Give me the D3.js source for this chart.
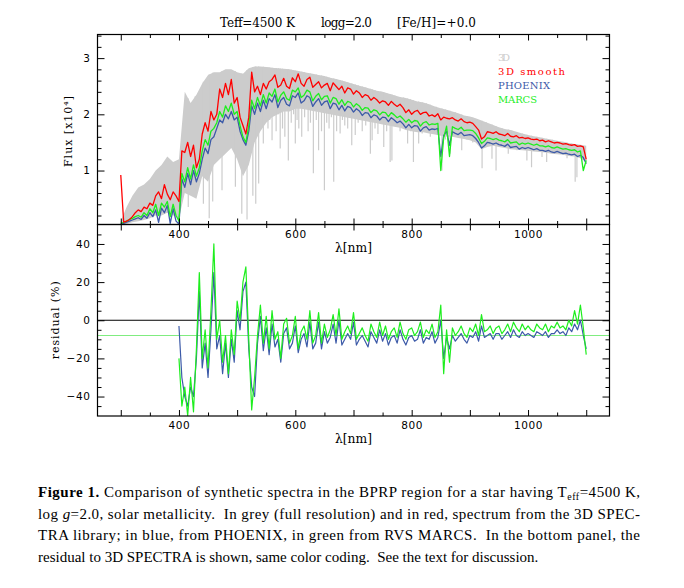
<!DOCTYPE html>
<html>
<head>
<meta charset="utf-8">
<script src="https://cdn.jsdelivr.net/npm/d3@7"></script>
<style>
  body { margin: 0; background: #fff; }
  svg text { fill: #000; }
</style>
</head>
<body>
<svg id="chart" width="684" height="588"></svg>
<script>
/* wavelength grids (nm) */
const wave = d3.range(300, 1101, 5);
const grayWave = d3.range(300, 1101, 10);
const resWave = d3.range(400, 1101, 5);

/* top panel, flux in units of 1e4 */
const smooth3D = [
  0.92, 0.08, 0.10, 0.13, 0.18, 0.25, 0.30, 0.27, 0.35, 0.32,
  0.42, 0.38, 0.55, 0.62, 0.50, 0.75, 0.58, 0.48, 0.62, 0.55,
  0.45, 1.35, 1.32, 1.50, 1.25, 1.45, 1.05, 1.20, 1.65, 1.85,
  1.70, 2.05, 1.90, 2.00, 2.45, 2.30, 2.55, 2.35, 2.62, 2.20,
  2.30, 1.95, 1.80, 1.65, 1.95, 2.75, 2.40, 2.50, 2.35, 2.55,
  2.45, 2.58, 2.62, 2.70, 2.48, 2.52, 2.64, 2.50, 2.46, 2.65,
  2.58, 2.72, 2.55, 2.50, 2.62, 2.66, 2.48, 2.53, 2.58, 2.47,
  2.52, 2.55, 2.42, 2.56, 2.50, 2.44, 2.50, 2.38, 2.47, 2.45,
  2.36, 2.42, 2.38, 2.30, 2.35, 2.33, 2.25, 2.30, 2.26, 2.20,
  2.24, 2.22, 2.16, 2.23, 2.18, 2.14, 2.18, 2.12, 2.03, 2.08,
  2.00, 2.05, 2.07, 2.00, 2.03, 2.04, 1.97, 1.99, 1.96, 2.01,
  1.90, 1.95, 1.93, 1.92, 1.94, 1.90, 1.88, 1.92, 1.87, 1.85,
  1.86, 1.84, 1.78, 1.72, 1.56, 1.60, 1.69, 1.68, 1.66, 1.69,
  1.65, 1.64, 1.62, 1.66, 1.61, 1.60, 1.62, 1.58, 1.59, 1.57,
  1.58, 1.56, 1.55, 1.56, 1.53, 1.54, 1.51, 1.53, 1.51, 1.49,
  1.50, 1.49, 1.47, 1.48, 1.46, 1.45, 1.46, 1.43, 1.44, 1.42,
  1.20
];

const phoenix = [
  0.05, 0.06, 0.08, 0.10, 0.12, 0.14, 0.16, 0.13, 0.20, 0.15,
  0.25, 0.18, 0.30, 0.08, 0.33, 0.25, 0.38, 0.06, 0.32, 0.10,
  0.05, 0.85, 0.70, 0.95, 0.75, 1.00, 0.80, 0.95, 1.20, 1.40,
  1.30, 1.55, 1.60, 1.75, 1.90, 1.85, 2.00, 1.92, 2.05, 1.90,
  1.95, 1.70, 1.55, 1.45, 1.70, 2.15, 2.00, 2.20, 2.05, 2.25,
  2.10, 2.28, 2.22, 2.35, 2.12, 2.25, 2.30, 2.18, 2.15, 2.33,
  2.30, 2.38, 2.20, 2.24, 2.33, 2.30, 2.14, 2.22, 2.28, 2.16,
  2.22, 2.24, 2.10, 2.20, 2.18, 2.08, 2.16, 2.06, 2.14, 2.12,
  2.04, 2.10, 2.06, 1.98, 2.03, 2.02, 1.94, 1.99, 1.97, 1.90,
  1.95, 1.94, 1.87, 1.94, 1.90, 1.85, 1.88, 1.83, 1.76, 1.82,
  1.76, 1.80, 1.79, 1.70, 1.76, 1.78, 1.72, 1.74, 1.73, 1.75,
  1.25, 1.62, 1.70, 1.45, 1.69, 1.66, 1.64, 1.68, 1.62, 1.63,
  1.64, 1.62, 1.57, 1.50, 1.40, 1.44, 1.50, 1.49, 1.47, 1.49,
  1.46, 1.45, 1.43, 1.47, 1.41, 1.42, 1.43, 1.38, 1.41, 1.39,
  1.41, 1.39, 1.37, 1.39, 1.36, 1.36, 1.34, 1.36, 1.33, 1.32,
  1.34, 1.32, 1.30, 1.31, 1.29, 1.28, 1.29, 1.25, 1.27, 1.23,
  1.12
];

const marcs = [
  0.06, 0.08, 0.10, 0.13, 0.15, 0.18, 0.20, 0.17, 0.25, 0.20,
  0.32, 0.25, 0.40, 0.20, 0.42, 0.35, 0.45, 0.18, 0.40, 0.20,
  0.10, 0.95, 0.80, 1.05, 0.85, 1.10, 0.90, 1.05, 1.35, 1.55,
  1.45, 1.70, 1.75, 1.85, 2.05, 1.95, 2.15, 2.05, 2.20, 2.00,
  2.05, 1.80, 1.60, 1.50, 1.80, 2.25, 2.10, 2.30, 2.15, 2.35,
  2.20, 2.38, 2.32, 2.45, 2.22, 2.34, 2.40, 2.28, 2.25, 2.43,
  2.40, 2.47, 2.30, 2.34, 2.43, 2.40, 2.24, 2.32, 2.37, 2.26,
  2.32, 2.33, 2.20, 2.30, 2.28, 2.18, 2.26, 2.16, 2.23, 2.21,
  2.13, 2.19, 2.15, 2.07, 2.12, 2.11, 2.03, 2.08, 2.06, 1.99,
  2.04, 2.03, 1.96, 2.03, 1.99, 1.94, 1.97, 1.92, 1.86, 1.91,
  1.85, 1.89, 1.88, 1.79, 1.85, 1.87, 1.81, 1.83, 1.82, 1.84,
  1.00, 1.58, 1.79, 1.25, 1.78, 1.75, 1.73, 1.77, 1.71, 1.72,
  1.72, 1.71, 1.66, 1.58, 1.48, 1.52, 1.58, 1.57, 1.55, 1.57,
  1.54, 1.53, 1.51, 1.55, 1.49, 1.50, 1.51, 1.46, 1.49, 1.47,
  1.49, 1.47, 1.45, 1.47, 1.44, 1.44, 1.42, 1.44, 1.41, 1.40,
  1.42, 1.40, 1.38, 1.39, 1.37, 1.36, 1.37, 1.33, 1.35, 1.00,
  1.18
];

/* full resolution 3D: upper envelope and lower edge of the dense band */
const gray3DTop = [
  0.10, 0.35, 0.55, 0.70, 0.75, 0.85, 1.00, 1.10, 1.25, 1.15,
  1.20, 2.40, 2.20, 2.35, 2.55, 2.70, 2.75, 2.75, 2.80, 2.80,
  2.75, 2.72, 2.82, 2.85, 2.85, 2.84, 2.83, 2.82, 2.81, 2.80,
  2.78, 2.76, 2.74, 2.72, 2.70, 2.68, 2.65, 2.63, 2.60, 2.57,
  2.54, 2.51, 2.48, 2.45, 2.42, 2.40, 2.37, 2.34, 2.31, 2.29,
  2.26, 2.23, 2.21, 2.18, 2.14, 2.11, 2.08, 2.05, 2.02, 1.98,
  1.96, 1.93, 1.89, 1.85, 1.81, 1.77, 1.74, 1.72, 1.69, 1.66,
  1.63, 1.61, 1.59, 1.57, 1.55, 1.53, 1.51, 1.49, 1.47, 1.46,
  1.44
];
const gray3DBase = [
  0.05, 0.05, 0.08, 0.10, 0.12, 0.15, 0.20, 0.20, 0.25, 0.20,
  0.15, 0.60, 0.55, 0.50, 0.90, 0.80, 1.10, 1.20, 1.30, 1.40,
  1.20, 0.90, 1.10, 1.50, 1.70, 1.85, 1.95, 2.00, 2.05, 2.05,
  2.10, 2.10, 2.08, 2.06, 2.04, 2.02, 2.00, 1.98, 1.96, 1.94,
  1.92, 1.90, 1.88, 1.86, 1.84, 1.82, 1.80, 1.78, 1.76, 1.72,
  1.70, 1.68, 1.68, 1.66, 1.64, 1.62, 1.60, 1.60, 1.58, 1.56,
  1.54, 1.50, 1.38, 1.42, 1.44, 1.42, 1.40, 1.38, 1.37, 1.36,
  1.35, 1.34, 1.33, 1.32, 1.30, 1.29, 1.28, 1.26, 1.25, 1.22,
  1.15
];
/* absorption lines of the 3D spectrum: [nm, flux at line core] */
const grayLines = [
  [416, 0.35], [428, 0.65], [442, 0.41], [452, 0.15], [458, 0.45], [474, 0.65],
  [497, 0.71], [508, 0.23], [517, 0.13], [527, 0.55], [532, 0.41], [537, 0.77],
  [545, 1.48], [553, 1.75], [556, 1.90], [560, 1.54], [567, 1.70], [571, 2.00],
  [574, 1.39], [578, 1.75], [582, 1.60], [588, 1.18], [593, 1.85], [597, 2.00],
  [600, 1.48], [603, 1.90], [606, 1.75], [611, 1.60], [616, 1.95], [622, 1.70],
  [626, 1.85], [631, 0.95], [636, 1.90], [640, 1.36], [645, 1.70], [650, 0.65],
  [654, 1.85], [658, 1.75], [662, 1.95], [666, 0.80], [671, 1.70], [677, 1.66],
  [681, 1.90], [685, 1.80], [690, 1.75], [697, 1.45], [703, 1.63], [708, 1.85],
  [715, 1.70], [721, 1.80], [729, 1.30], [732, 1.54], [737, 1.75], [742, 1.65],
  [747, 1.85], [752, 1.42], [757, 1.70], [763, 1.15], [766, 1.18], [771, 1.80],
  [780, 1.70], [786, 1.75], [793, 1.48], [798, 1.70], [803, 1.15], [812, 1.48],
  [818, 1.66], [825, 1.70], [832, 1.60], [842, 1.65], [852, 1.00], [858, 1.55],
  [866, 1.30], [875, 1.60], [886, 1.36], [895, 1.55], [905, 1.50], [921, 1.04],
  [928, 1.50], [938, 1.21], [945, 1.00], [955, 1.45], [966, 1.30], [972, 1.40],
  [981, 1.36], [990, 1.40], [998, 1.18], [1006, 1.06], [1015, 1.35], [1024, 1.24],
  [1032, 1.15], [1042, 1.30], [1052, 1.30], [1060, 1.32], [1067, 1.22], [1075, 1.30],
  [1081, 0.80], [1084, 0.88], [1092, 1.25]
];

/* bottom panel, residual to 3D (%) */
const resPhoenix = [
  -3, -30, -40, -45, -35, -40, -20, 15, -25, -12,
  -30, -5, 25, -15, -8, -28, -12, -30, -10, -22,
  5, -5, 15, 20, -15, -35, -40, -12, 2, -16,
  -4, -18, -2, -14, -10, -22, -7, -4, -15, -12,
  -3, -17, -10, -7, -14, -1, -15, -12, -1, -15,
  -6, -12, -9, -2, -12, 0, -13, -10, -7, -10,
  -1, -13, -10, -8, -11, -14, -6, -9, -12, -5,
  -11, -7, -13, -9, -8, -12, -5, -10, -13, -9,
  -8, -11, -10, -5, -12, -9, -10, -6, -12, -9,
  0, -20, -9, -15, -8, -11, -9, -7, -10, -12,
  -8, -9, -6, -11, -3, -9, -8, -7, -10, -7,
  -7, -10, -8, -6, -9, -5, -8, -9, -6, -8,
  -7, -8, -9, -6, -7, -8, -6, -9, -7, -7,
  -5, -7, -6, -8, -4, -6, -2, -5, 0, -8,
  -15
];
const resMarcs = [
  -20, -45, -35, -50, -30, -48, -15, 25, -20, -5,
  -25, 5, 40, -10, 0, -22, -8, -28, -5, -18,
  10, 0, 20, 28, -10, -47, -30, -8, 8, -12,
  2, -15, 5, -10, -6, -20, -2, 1, -12, -8,
  2, -15, -6, -3, -10, 5, -12, -8, 4, -12,
  -2, -9, -5, 3, -8, 6, -10, -6, -3, -7,
  4, -10, -7, -4, -8, -11, -2, -6, -9, -1,
  -8, -3, -10, -6, -4, -9, -1, -7, -10, -5,
  -4, -8, -6, -1, -9, -5, -7, -2, -9, -6,
  8, -28, -5, -22, -4, -8, -6, -3, -7, -9,
  -4, -6, -2, -8, 3, -6, -5, -3, -7, -4,
  -3, -7, -5, -2, -6, -1, -4, -6, -2, -5,
  -3, -5, -6, -2, -4, -5, -2, -6, -3, -4,
  -1, -4, -3, -5, 0, -3, 5, -2, 8, -4,
  -18
];
const resMarcsMean = -8;

/* ticks and labels */
const xLabelTicks = [400, 600, 800, 1000];
const xMajorTicks = [300, 400, 500, 600, 700, 800, 900, 1000, 1100];
const xMinorTicks = [350, 450, 550, 650, 750, 850, 950, 1050];
const fluxMajorTicks = [1, 2, 3];
const fluxMinorTicks = [0.2, 0.4, 0.6, 0.8, 1.2, 1.4, 1.6, 1.8, 2.2, 2.4, 2.6, 2.8, 3.2, 3.4];
const resMajorTicks = [-40, -20, 0, 20, 40];
const resMinorTicks = [-45, -35, -30, -25, -15, -10, -5, 5, 10, 15, 25, 30, 35, 45];

const titleParts = ["Teff=4500 K", "logg=2.0", "[Fe/H]=+0.0"];
const legendNames = ["3D", "3D smooth", "PHOENIX", "MARCS"];
const colors = {gray: "#cccccc", red: "#ff0000", blue: "#3c5aa8", green: "#1eee1e", mean: "#80ec80"};

/******************************************
            scales & layout
******************************************/

const svg = d3.select("#chart");
const left = 97.5, right = 609.5, top1 = 34.5, mid = 224.5, bot = 416;

const x = d3.scaleLinear().domain([260, 1140]).range([left, right]);
const yTop = d3.scaleLinear().domain([0.04, 3.42]).range([mid, top1]);
const yRes = d3.scaleLinear().domain([-50.2, 50.2]).range([bot, mid]);

const defs = svg.append("defs");
defs.append("clipPath").attr("id", "clipTop")
  .append("rect").attr("x", left).attr("y", top1).attr("width", right - left).attr("height", mid - top1);
defs.append("clipPath").attr("id", "clipRes")
  .append("rect").attr("x", left).attr("y", mid).attr("width", right - left).attr("height", bot - mid);

/******************************************
            top panel: spectra
******************************************/

const gTop = svg.append("g").attr("clip-path", "url(#clipTop)");

/* grey dense band of the full resolution spectrum */
gTop.append("path")
  .attr("d", d3.area()
    .x((d, i) => x(grayWave[i]))
    .y0((d, i) => yTop(gray3DBase[i]))
    .y1(d => yTop(d))(gray3DTop))
  .attr("fill", colors.gray);

const topAt = d3.scaleLinear().domain(grayWave).range(gray3DTop);
gTop.selectAll("line.absline")
  .data(grayLines)
  .join("line")
    .attr("class", "absline")
    .attr("x1", d => x(d[0])).attr("x2", d => x(d[0]))
    .attr("y1", d => yTop(topAt(d[0]))).attr("y2", d => yTop(d[1]))
    .attr("stroke", colors.gray).attr("stroke-width", 1.2);

const specLine = d3.line().x((d, i) => x(wave[i])).y(d => yTop(d));
[[phoenix, colors.blue], [marcs, colors.green], [smooth3D, colors.red]].forEach(([s, c]) => {
  gTop.append("path")
    .attr("d", specLine(s))
    .attr("fill", "none")
    .attr("stroke", c)
    .attr("stroke-width", 1.3)
    .attr("stroke-linejoin", "round");
});

/******************************************
          bottom panel: residuals
******************************************/

const gRes = svg.append("g").attr("clip-path", "url(#clipRes)");

gRes.append("line")
  .attr("x1", left).attr("x2", right)
  .attr("y1", yRes(resMarcsMean)).attr("y2", yRes(resMarcsMean))
  .attr("stroke", colors.mean).attr("stroke-width", 1);

gRes.append("line")
  .attr("x1", left).attr("x2", right)
  .attr("y1", yRes(0)).attr("y2", yRes(0))
  .attr("stroke", "#000").attr("stroke-width", 1);

const resLine = d3.line().x((d, i) => x(resWave[i])).y(d => yRes(d));
[[resPhoenix, colors.blue], [resMarcs, colors.green]].forEach(([s, c]) => {
  gRes.append("path")
    .attr("d", resLine(s))
    .attr("fill", "none")
    .attr("stroke", c)
    .attr("stroke-width", 1.2)
    .attr("stroke-linejoin", "round");
});

/******************************************
            frames, ticks, labels
******************************************/

const tickFont = g => g
  .attr("font-family", "DejaVu Sans")
  .attr("font-size", 10.5)
  .call(g => g.select(".domain").remove())
  .call(g => g.selectAll(".tick line").attr("stroke", "#000"))
  .call(g => g.selectAll(".tick text").attr("letter-spacing", 0.6));

const noLabel = () => "";
const xLabel = d => xLabelTicks.includes(d) ? d : "";

function xAxes(yPos, withLabels) {
  svg.append("g").attr("transform", `translate(0,${yPos})`)
    .call(d3.axisBottom(x).tickValues(xMajorTicks).tickSize(-6).tickPadding(6)
      .tickFormat(withLabels ? xLabel : noLabel))
    .call(tickFont);
  svg.append("g").attr("transform", `translate(0,${yPos})`)
    .call(d3.axisBottom(x).tickValues(xMinorTicks).tickSize(-3.5).tickFormat(noLabel))
    .call(tickFont);
}
function xAxesTop(yPos) {
  svg.append("g").attr("transform", `translate(0,${yPos})`)
    .call(d3.axisTop(x).tickValues(xMajorTicks).tickSize(-6).tickFormat(noLabel))
    .call(tickFont);
  svg.append("g").attr("transform", `translate(0,${yPos})`)
    .call(d3.axisTop(x).tickValues(xMinorTicks).tickSize(-3.5).tickFormat(noLabel))
    .call(tickFont);
}
function yAxes(scale, major, minor, fmt) {
  svg.append("g").attr("transform", `translate(${left},0)`)
    .call(d3.axisLeft(scale).tickValues(major).tickSize(-7).tickPadding(7)
      .tickFormat(d => d < 0 ? "\u2212" + (-d) : fmt(d)))
    .call(tickFont);
  svg.append("g").attr("transform", `translate(${left},0)`)
    .call(d3.axisLeft(scale).tickValues(minor).tickSize(-4).tickFormat(noLabel))
    .call(tickFont);
  svg.append("g").attr("transform", `translate(${right},0)`)
    .call(d3.axisRight(scale).tickValues(major).tickSize(-7).tickFormat(noLabel))
    .call(tickFont);
  svg.append("g").attr("transform", `translate(${right},0)`)
    .call(d3.axisRight(scale).tickValues(minor).tickSize(-4).tickFormat(noLabel))
    .call(tickFont);
}

xAxesTop(top1);
xAxes(mid, true);
xAxesTop(mid);
xAxes(bot, true);
yAxes(yTop, fluxMajorTicks, fluxMinorTicks, d => d);
yAxes(yRes, resMajorTicks, resMinorTicks, d => d);

svg.append("rect").attr("x", left).attr("y", top1).attr("width", right - left).attr("height", mid - top1)
  .attr("fill", "none").attr("stroke", "#000").attr("stroke-width", 1.2);
svg.append("rect").attr("x", left).attr("y", mid).attr("width", right - left).attr("height", bot - mid)
  .attr("fill", "none").attr("stroke", "#000").attr("stroke-width", 1.2);

const serif = "DejaVu Serif";

/* axis titles */
[mid + 27, bot + 27].forEach(yy => {
  svg.append("text")
    .attr("x", (left + right) / 2).attr("y", yy)
    .attr("text-anchor", "middle")
    .attr("font-family", serif).attr("font-size", 12)
    .attr("textLength", 37).attr("lengthAdjust", "spacingAndGlyphs")
    .text("\u03bb[nm]");
});

svg.append("text")
  .attr("transform", `translate(72,${(top1 + mid) / 2 + 2}) rotate(-90)`)
  .attr("text-anchor", "middle")
  .attr("font-family", serif).attr("font-size", 11)
  .attr("textLength", 71).attr("lengthAdjust", "spacing")
  .text("Flux [x10\u2074]");

svg.append("text")
  .attr("transform", `translate(59,${(mid + bot) / 2}) rotate(-90)`)
  .attr("text-anchor", "middle")
  .attr("font-family", serif).attr("font-size", 11)
  .attr("textLength", 78).attr("lengthAdjust", "spacing")
  .text("residual (%)");

/* title */
const titlePos = [[220, 75], [321, 51], [397, 79]];
titleParts.forEach((t, i) => {
  svg.append("text")
    .attr("x", titlePos[i][0]).attr("y", 27)
    .attr("font-family", serif).attr("font-size", 12)
    .attr("textLength", titlePos[i][1]).attr("lengthAdjust", "spacing")
    .text(t);
});

/* legend */
const legendColors = [colors.gray, colors.red, colors.blue, colors.green];
const legendWidths = [12, 67, 52, 39];
legendNames.forEach((t, i) => {
  svg.append("text")
    .attr("x", 498).attr("y", 61 + i * 14)
    .attr("font-family", serif).attr("font-size", 10)
    .attr("textLength", legendWidths[i]).attr("lengthAdjust", "spacing")
    .style("fill", legendColors[i])
    .text(t);
});

/******************************************
               caption
******************************************/

const captionLines = [
  [["Figure 1.", "b"], [" Comparison of synthetic spectra in the BPRP region for a star having T"], ["eff", "sub"], ["=4500 K,"]],
  [["log "], ["g", "i"], ["=2.0, solar metallicity.  In grey (full resolution) and in red, spectrum from the 3D SPEC-"]],
  [["TRA library; in blue, from PHOENIX, in green from RVS MARCS.  In the bottom panel, the"]],
  [["residual to 3D SPECTRA is shown, same color coding.  See the text for discussion."]]
];
const captionY = [497, 519, 540, 562];

captionLines.forEach((parts, li) => {
  const t = svg.append("text")
    .attr("x", 38).attr("y", captionY[li])
    .attr("font-family", "Liberation Serif").attr("font-size", 15)
    .attr("xml:space", "preserve");
  if (li < 3) t.attr("textLength", 602).attr("lengthAdjust", "spacing");
  parts.forEach(([s, style]) => {
    const ts = t.append("tspan").text(s);
    if (style === "b") ts.attr("font-weight", "bold");
    if (style === "i") ts.attr("font-style", "italic");
    if (style === "sub") ts.attr("font-size", 10).attr("dy", 3);
    if (style === undefined && s.startsWith("=4500")) ts.attr("dy", -3);
  });
});
</script>
</body>
</html>
